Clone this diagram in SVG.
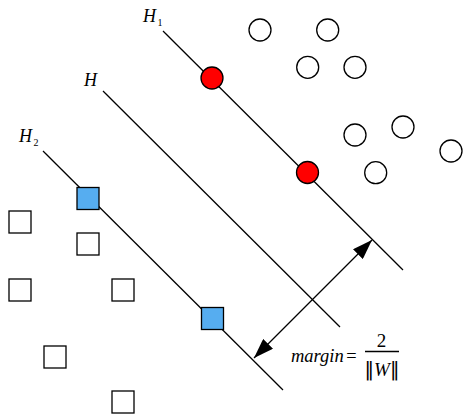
<svg xmlns="http://www.w3.org/2000/svg" width="463" height="416" viewBox="0 0 463 416">
<style>
.ln{stroke:#000;stroke-width:1.3;fill:none}
.oc{fill:#fff;stroke:#000;stroke-width:1.3}
.os{fill:#fff;stroke:#000;stroke-width:1.3}
.rc{fill:#ff0000;stroke:#000;stroke-width:1.3}
.bs{fill:#56adf0;stroke:#000;stroke-width:1.3}
.t{font-family:"Liberation Serif","Times New Roman",serif;font-style:italic;fill:#000}
.n{font-family:"Liberation Serif","Times New Roman",serif;fill:#000}
.b{font-family:"DejaVu Sans","DejaVu Serif",sans-serif;font-style:normal;fill:#000}
</style>
<defs>
<marker id="ah" viewBox="0 0 20 14" refX="20" refY="7" markerWidth="20" markerHeight="14" markerUnits="userSpaceOnUse" orient="auto-start-reverse">
<path d="M0,0 L20,7 L0,14 z" fill="#000"/>
</marker>
</defs>
<rect width="463" height="416" fill="#fff"/>
<g id="connectors">
<line id="H1-line" class="ln" x1="163" y1="31" x2="403" y2="270"/>
<line id="H-line" class="ln" x1="103" y1="91" x2="340" y2="327"/>
<line id="H2-line" class="ln" x1="43" y1="151" x2="283" y2="390"/>
<line id="margin-arrow" class="ln" x1="254" y1="358" x2="372" y2="240" marker-start="url(#ah)" marker-end="url(#ah)"/>
</g>
<g id="labels">
<g id="label-H1"><text class="t" x="143" y="22" font-size="18">H</text><text class="n" x="157.5" y="25.5" font-size="10">1</text></g>
<g id="label-H"><text class="t" x="84" y="86" font-size="18">H</text></g>
<g id="label-H2"><text class="t" x="19" y="142" font-size="18">H</text><text class="n" x="33.5" y="145.5" font-size="10">2</text></g>
<g id="label-margin">
<text class="t" x="291" y="362" font-size="18.5">margin<tspan class="n" x="345">=</tspan></text>
<text class="n" x="381.5" y="347" font-size="19" text-anchor="middle">2</text>
<line class="ln" x1="365" y1="351.5" x2="399" y2="351.5" stroke-width="1.1"/>
<text class="t" x="382" y="375.5" font-size="19" text-anchor="middle"><tspan class="b" font-size="19">‖</tspan>W<tspan class="b" font-size="19">‖</tspan></text>
</g>
</g>
<g id="support-circles">
<circle id="sc1" class="rc" cx="212" cy="78" r="11"/>
<circle id="sc2" class="rc" cx="307.5" cy="172.5" r="11"/>
</g>
<g id="circles">
<circle id="c1" class="oc" cx="260" cy="30" r="11"/>
<circle id="c2" class="oc" cx="327.7" cy="30" r="11"/>
<circle id="c3" class="oc" cx="307.7" cy="67.3" r="11"/>
<circle id="c4" class="oc" cx="355" cy="67.3" r="11"/>
<circle id="c5" class="oc" cx="355" cy="135" r="11"/>
<circle id="c6" class="oc" cx="403" cy="127" r="11"/>
<circle id="c7" class="oc" cx="451" cy="151" r="11"/>
<circle id="c8" class="oc" cx="375.7" cy="172.7" r="11"/>
</g>
<g id="support-squares">
<rect id="ss1" class="bs" x="77" y="187.5" width="22" height="22"/>
<rect id="ss2" class="bs" x="201.5" y="307.5" width="22" height="22"/>
</g>
<g id="squares">
<rect id="s1" class="os" x="9" y="211" width="22" height="22"/>
<rect id="s2" class="os" x="77" y="233" width="22" height="22"/>
<rect id="s3" class="os" x="9" y="279" width="22" height="22"/>
<rect id="s4" class="os" x="112" y="279" width="22" height="22"/>
<rect id="s5" class="os" x="44" y="346" width="22" height="22"/>
<rect id="s6" class="os" x="112" y="391" width="22" height="22"/>
</g>
</svg>
